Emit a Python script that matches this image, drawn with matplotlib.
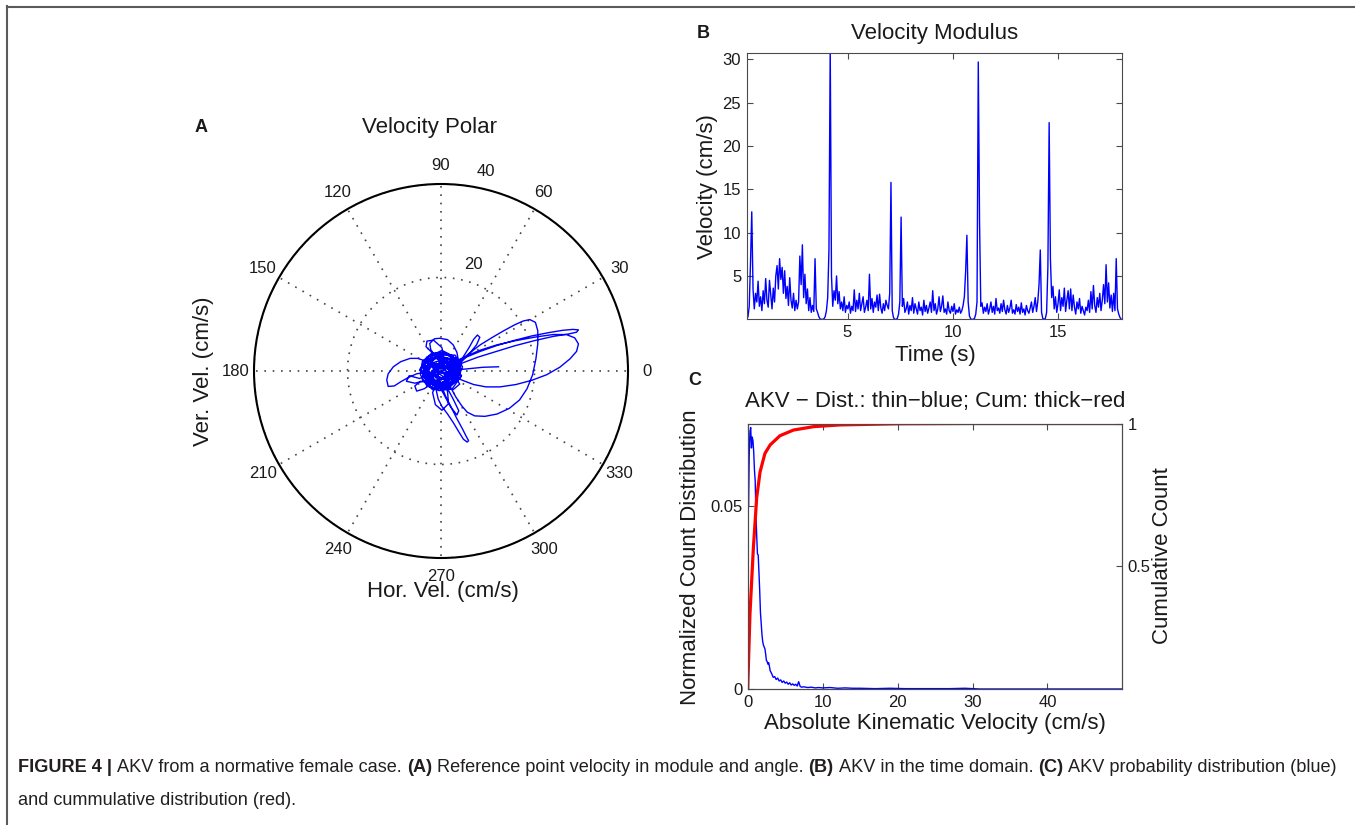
import numpy as np
import matplotlib
matplotlib.use("Agg")
import matplotlib.pyplot as plt
from matplotlib.lines import Line2D
from matplotlib.font_manager import FontProperties

plt.rcParams['font.family'] = ['Liberation Sans', 'DejaVu Sans']
plt.rcParams['axes.unicode_minus'] = True

# ---------------- DATA ----------------
# Panel A: trajectory of (horizontal, vertical) velocity in cm/s, in drawing order
traj_core_1 = [(0.0, 0.0), (2.2, 1.4), (3.9, -0.3), (2.0, -2.9), (-1.6, -3.1), (-3.6, -0.6), (-2.4, 2.6), (0.8, 3.9),
               (3.4, 2.4), (4.3, -1.2), (1.4, -3.9), (-2.2, -3.4), (-4.2, 0.4), (-2.8, 3.0), (0.2, 4.4), (2.6, 3.2),
               (3.2, 0.2), (1.0, -1.8), (-1.4, -1.0), (-0.4, 1.6), (1.6, 0.6)]
traj_left_loop = [(-1.5, 0.8), (-3.5, 2.2), (-5.0, 2.7), (-6.6, 2.7), (-8.6, 2.0), (-10.2, 0.9), (-11.3, -0.6),
                  (-11.6, -1.9), (-11.3, -3.3), (-10.0, -3.2), (-8.6, -2.3), (-7.0, -1.4), (-5.2, -0.6),
                  (-3.5, -0.3), (-1.8, -0.4)]
traj_core_2 = [(1.8, -2.6), (3.6, -1.6), (4.6, 0.9), (3.0, 3.4), (-0.6, 3.4), (-3.4, 1.6), (-4.0, -1.8),
               (-1.8, -4.0), (1.6, -3.6), (3.8, 0.6), (2.0, 2.2), (-0.8, 0.8), (-2.6, -1.8), (0.4, -2.6),
               (2.8, -0.6), (1.2, 1.6)]
traj_up_loop = [(-0.8, 2.6), (-2.2, 4.6), (-2.4, 5.9), (-1.4, 6.9), (-0.2, 7.0), (1.4, 6.7), (2.6, 5.6),
                (3.4, 4.0), (3.7, 2.4), (3.0, 0.8)]
traj_core_3 = [(0.6, -1.4), (-2.0, -2.6), (-4.4, -2.2), (-5.6, -3.2), (-5.2, -4.3), (-3.6, -3.8), (-1.2, -2.2),
               (1.8, -1.0), (4.0, 1.6)]
traj_small_lobe = [(4.8, 3.1), (6.0, 5.0), (7.0, 6.8), (7.8, 7.7), (8.3, 7.2), (7.6, 5.6), (6.0, 3.6),
                   (4.2, 1.8), (2.4, 0.4)]
traj_core_4 = [(1.0, 2.0), (3.0, 1.0), (2.5, -1.5), (0.0, -2.5), (-2.5, -1.5), (-3.0, 1.0), (-1.0, 3.0),
               (1.5, 2.8), (3.2, 0.2), (2.0, -2.6), (-0.8, -3.4), (-3.2, -2.0), (-3.6, 1.2), (-1.6, 3.4),
               (1.2, 3.6), (3.6, 1.6), (3.8, -1.8), (1.2, -3.6), (-1.8, -3.0), (-2.0, -0.2), (-0.2, 1.2),
               (1.8, 0.2), (0.8, -1.6), (-1.2, -1.4), (-1.6, 0.8), (0.4, 2.2), (2.6, 1.8), (3.4, -0.6),
               (1.6, -2.0), (-0.6, -1.2), (-2.8, 0.0), (-2.2, 2.2), (0.0, 3.2), (2.2, 2.4), (2.8, 0.4),
               (1.0, -0.8), (-1.0, 0.2), (-0.4, -2.4), (1.6, -3.0), (3.0, -2.0), (4.2, 0.4), (3.0, 2.8),
               (0.6, 4.0), (-2.0, 3.8), (-4.0, 2.0), (-4.4, -0.8), (-3.0, -3.2), (-0.4, -4.2), (2.4, -3.8),
               (4.4, -1.0), (2.2, 0.8), (-0.6, 0.6), (-2.4, -1.0), (-1.0, -2.8), (1.2, -2.2), (2.0, 0.0)]
traj_upleft_loop = [(-1.0, 3.0), (-2.4, 4.4), (-3.2, 5.2), (-3.0, 6.4), (-1.6, 6.6), (0.2, 5.0), (0.5, 3.0)]
traj_core_5 = [(0.6, 1.4), (-1.4, 1.6), (-3.2, 0.2), (-3.4, -2.4), (-1.6, -3.8), (0.8, -3.0), (2.6, -0.8),
               (1.6, 1.2), (-0.2, 2.6), (-2.6, 2.8), (-3.8, 0.6), (-2.6, -1.4), (-0.4, -0.6), (1.4, 0.8),
               (3.8, 2.2), (2.0, 3.4), (-0.8, 3.8), (-3.0, 3.0), (-4.6, 0.2), (-3.6, -1.0), (-1.2, 0.0),
               (1.0, -0.4), (3.0, -1.2), (4.0, -2.8), (2.6, -4.0), (0.0, -3.2), (-2.0, -2.0), (-1.2, 0.6),
               (0.8, 2.0), (2.8, 1.0), (2.2, -0.4)]
traj_loop_a = [(3.6, 1.6), (5.8, 3.6), (8.4, 5.6), (11.0, 7.2), (13.4, 8.6), (15.8, 9.9), (17.6, 10.7),
               (19.0, 11.0), (20.2, 10.4), (20.7, 8.6), (20.7, 5.8), (20.3, 2.6), (19.6, -0.8), (18.4, -3.8),
               (16.8, -6.2), (14.6, -8.0), (12.0, -9.2), (9.4, -9.7), (7.2, -9.6), (5.6, -8.8), (4.4, -7.4),
               (3.2, -5.6), (2.0, -3.4), (0.8, -1.4)]
traj_core_6 = [(-1.0, -0.2), (-2.4, 1.4), (-1.2, 2.8), (1.0, 2.6), (2.8, 0.4), (1.6, -2.4), (-1.2, -3.0),
               (-3.2, -1.0), (-2.0, 1.2), (0.2, 1.0)]
traj_loop_b = [(2.4, 1.6), (5.0, 2.8), (8.4, 4.2), (11.8, 5.4), (15.5, 6.5), (19.4, 7.5), (23.0, 8.2),
               (26.0, 8.7), (28.2, 8.9), (29.4, 8.8), (29.0, 8.3), (27.2, 7.9), (24.0, 7.4), (20.0, 6.5),
               (15.8, 5.4), (11.6, 4.1), (8.0, 3.0), (4.8, 1.8), (2.2, 0.6)]
traj_core_7 = [(0.6, -1.2), (-1.4, -2.4), (-3.2, -0.8), (-2.2, 1.6), (0.2, 2.4), (2.4, 1.8), (3.4, -0.8),
               (1.2, -3.2), (-1.0, -3.6), (-2.4, -1.4), (-0.6, 0.4)]
traj_loop_c = [(1.8, 1.4), (4.6, 2.8), (8.2, 4.4), (12.0, 5.6), (16.0, 6.5), (20.4, 7.3), (24.0, 7.8),
               (26.8, 7.8), (28.6, 7.1), (29.4, 5.8), (29.0, 4.2), (27.6, 2.6), (25.4, 0.8), (22.6, -0.8),
               (19.4, -2.0), (16.0, -2.9), (12.6, -3.4), (9.6, -3.4), (7.0, -2.9), (4.6, -2.0), (2.4, -1.0)]
traj_core_8 = [(0.4, 0.6), (-1.6, 1.6), (-3.4, 1.0), (-3.8, -1.2), (-2.0, -2.8), (0.6, -3.4), (2.6, -2.2),
               (3.6, 0.4), (2.2, 2.6), (-0.4, 2.0)]
traj_down_loop = [(-0.6, -1.0), (0.0, -3.0), (1.0, -5.4), (2.2, -7.8), (3.4, -10.2), (4.6, -12.4), (5.4, -14.0),
                  (5.9, -14.9), (5.6, -15.2), (4.8, -14.6), (3.8, -13.0), (2.6, -11.0), (1.4, -9.2),
                  (0.2, -7.6), (-0.6, -6.0), (-1.0, -4.2), (-0.6, -2.2)]
traj_low_loops = [(-1.8, -4.6), (-1.2, -7.2), (0.2, -8.4), (1.6, -7.0), (1.4, -4.4), (1.0, -3.0), (2.6, -6.0),
                  (3.8, -8.5), (3.4, -9.4), (2.0, -7.6), (0.4, -4.6)]
traj_core_9 = [(-2.2, -0.6), (-4.6, -1.6), (-6.8, -1.0), (-7.4, -2.2), (-5.6, -2.6), (-3.0, -2.0),
               (-1.8, 0.2), (1.0, -0.6), (3.0, 0.6), (4.4, 1.4), (2.8, -1.4)]
traj_tail = [(0.2, -0.4), (3.0, 0.2), (6.0, 0.5), (9.0, 0.8), (12.3, 0.9)]
trajectory_segments = [traj_core_1, traj_left_loop, traj_core_2, traj_up_loop, traj_core_3, traj_small_lobe,
                       traj_core_4, traj_upleft_loop, traj_core_5, traj_loop_a, traj_core_6, traj_loop_b,
                       traj_core_7, traj_loop_c, traj_core_8, traj_down_loop, traj_low_loops, traj_core_9,
                       traj_tail]
polar_angles = list(range(0, 360, 30))
polar_radii = [20, 40]

# Panel B: velocity modulus sampled every 0.06 s starting at 0.22 s (cm/s)
time_start = 0.22
time_step = 0.06
velocity_modulus = [
    0.0, 0.3, 1.5, 6.5, 12.4,
    3.5, 1.2, 3.0, 2.0, 4.4, 1.5,
    2.6, 1.0, 3.3, 1.8, 4.7, 2.2, 1.4, 4.5, 2.8, 1.2, 3.6, 2.0,
    5.0, 6.2, 3.5, 7.0, 4.6, 6.0, 3.0, 5.6,
    2.4, 3.8, 1.6, 4.8, 2.2, 1.3, 3.0, 1.0, 2.2, 1.2,
    2.0, 7.3, 4.0, 8.6, 2.5, 5.2,
    1.8, 3.5, 1.0, 2.5, 0.8, 1.6, 0.9, 7.0,
    1.2, 0.8, 0.3, 0.05, 0.0, 0.0, 0.05, 0.3, 1.0,
    2.5, 8.0, 31.5, 5.0,
    1.5, 3.3, 2.2, 5.0, 1.8, 3.2, 1.2, 2.0, 1.0, 2.6, 0.8, 1.6, 1.2,
    2.0, 0.7, 1.5, 1.0, 3.4, 0.9, 2.2, 1.2, 3.0, 1.0, 1.8, 2.6, 0.8, 1.4, 2.2,
    1.0, 5.2, 1.2, 2.4, 0.8, 2.0, 1.4, 2.8, 1.0, 2.9, 1.3, 0.7, 1.8, 1.0, 2.2, 1.6, 1.2, 3.0,
    15.8, 1.0, 0.2, 0.0, 0.0, 0.1, 0.6, 2.0, 11.8,
    1.5, 2.4, 0.8, 1.2, 2.0, 0.6, 1.6, 1.0, 2.5, 0.7, 1.8, 1.2, 0.6, 2.0, 1.0, 1.4, 0.5, 2.2, 0.9, 1.6,
    0.7, 1.3, 2.0, 0.8, 3.3, 1.0, 1.8, 0.6, 1.2, 2.6, 0.9, 1.5, 2.7, 0.8, 1.2, 0.6, 2.0, 1.0, 0.7, 1.5,
    0.9, 1.8, 0.6, 1.1, 0.8, 1.4, 0.7, 1.0, 1.6, 2.6,
    5.5, 9.7, 2.0, 0.4, 0.05, 0.0, 0.0, 0.1, 0.6, 2.0, 29.7, 11.2, 1.5,
    1.9, 0.7, 1.4, 0.9, 1.8, 0.6, 1.2, 2.0, 0.8, 1.5, 0.6, 2.4, 1.0, 1.3, 0.7, 1.8, 0.9, 2.2, 1.1, 0.6,
    1.6, 0.8, 1.3, 2.2, 0.7, 1.1, 0.6, 1.7, 0.9, 1.4, 0.6, 1.9, 0.8, 1.2, 0.5, 1.6, 1.0, 0.7, 1.3, 2.0,
    0.8, 1.5, 2.5, 0.9, 2.0, 4.0,
    8.0, 0.8, 0.1, 0.0, 0.1, 0.8, 6.0, 22.7, 7.0, 2.5,
    3.8, 1.2, 2.6, 0.8, 1.8, 3.4, 1.0, 2.5, 1.5, 3.6,
    0.9, 2.2, 3.3, 1.2, 3.5, 1.0, 2.8, 1.4, 0.6, 2.0,
    1.2, 2.4, 0.7, 1.5, 1.0, 0.5, 1.4, 1.0, 2.2, 0.8,
    3.2, 1.2, 3.9, 1.6, 0.8, 2.5, 1.4, 3.0, 1.0, 2.2,
    4.0, 1.8, 6.3, 2.0, 4.2, 1.3, 2.8, 0.9, 3.0, 1.0,
    7.0, 1.2, 0.6, 0.2, 0.0]
b_xticks = [5, 10, 15]
b_yticks = [5, 10, 15, 20, 25, 30]

# Panel C: distribution (blue) and cumulative (red)
akv_bins = [0, 0.1, 0.2, 0.3, 0.4, 0.5, 0.6, 0.7, 0.8, 0.9, 1.0, 1.1, 1.2, 1.3, 1.4, 1.5, 1.6, 1.7, 1.8, 1.9,
            2.0, 2.1, 2.2, 2.3, 2.4, 2.5, 2.6, 2.7, 2.8, 2.9, 3.0, 3.2, 3.4, 3.6, 3.8, 4.0, 4.2, 4.4, 4.6, 4.8,
            5.0, 5.2, 5.4, 5.6, 5.8, 6.0, 6.2, 6.4, 6.6, 6.8, 7.0, 7.2, 7.5, 8.0, 8.5, 9.0, 9.5, 10, 11, 12,
            13, 14, 15, 17, 19, 21, 23, 25, 27, 29, 30, 31, 49.9]
akv_dist = [0.12, 0.050, 0.064, 0.0705, 0.0716, 0.066, 0.069, 0.068, 0.065, 0.060, 0.057, 0.048, 0.042, 0.037,
            0.0367, 0.032, 0.027, 0.021, 0.018, 0.015, 0.013, 0.012, 0.0115, 0.011, 0.0095, 0.0078, 0.0075,
            0.0068, 0.0072, 0.0062, 0.0050, 0.0042, 0.0032, 0.0034, 0.0026, 0.0030, 0.0022, 0.0025, 0.0018,
            0.0022, 0.0016, 0.0019, 0.0013, 0.0017, 0.0011, 0.0014, 0.0010, 0.0013, 0.0008, 0.0020, 0.0007,
            0.0005, 0.0006, 0.0004, 0.0005, 0.0003, 0.0004, 0.0003, 0.0004, 0.0002, 0.0003, 0.0002, 0.0002,
            0.0001, 0.0002, 0.0001, 0.0001, 0.0001, 0.0001, 0.0002, 0.0001, 0.0, 0.0]
cum_x = [0, 0.3, 0.75, 1.2, 1.65, 2.3, 3.0, 4.3, 6.1, 8.8, 12.3, 20, 30, 49.9]
cum_y = [0.068, 0.33, 0.56, 0.74, 0.83, 0.895, 0.925, 0.957, 0.977, 0.989, 0.995, 0.999, 1.0, 1.0]
c_xticks = [0, 10, 20, 30, 40]
c_left_ticks = [0, 0.05]
c_left_labels = ['0', '0.05']
c_right_ticks = [0.5, 1]
c_right_labels = ['0.5', '1']

caption_line1 = [("FIGURE 4 |", True), ("AKV from a normative female case.", False), ("(A)", True),
                 ("Reference point velocity in module and angle.", False), ("(B)", True),
                 ("AKV in the time domain.", False), ("(C)", True), ("AKV probability distribution (blue)", False)]
caption_line2 = [("and cummulative distribution (red).", False)]

# ---------------- FIGURE ----------------
W, H = 1355, 825
fig = plt.figure(figsize=(W / 100, H / 100), dpi=100)


def fx(px):
    return px / W


def fy(py):
    return 1 - py / H


TXT = '#1a1a1a'
SPINE = '#4a4a4a'

# frame lines
fig.add_artist(Line2D([fx(7), 1.0], [fy(6.5), fy(6.5)], transform=fig.transFigure, color='#5a5a5a', lw=1.5))
fig.add_artist(Line2D([fx(7.5), fx(7.5)], [fy(6), 0.0], transform=fig.transFigure, color='#5a5a5a', lw=1.5))

# ---------- Panel A (polar) ----------
cx, cy, R = 441, 371, 187
ax_a = fig.add_axes([fx(cx - R), fy(cy + R), 2 * R / W, 2 * R / H], projection='polar')
hv = np.array([p[0] for seg in trajectory_segments for p in seg])
vv = np.array([p[1] for seg in trajectory_segments for p in seg])
ax_a.plot(np.arctan2(vv, hv), np.hypot(hv, vv), color='blue', lw=1.0)
ax_a.set_rlim(0, 40)
ax_a.set_thetagrids(polar_angles, labels=[''] * len(polar_angles))
ax_a.set_rgrids(polar_radii, labels=[''] * len(polar_radii))
ax_a.grid(True, linestyle=(0, (1, 4)), color='#444444', lw=1.2)
ax_a.spines['polar'].set_color('black')
ax_a.spines['polar'].set_linewidth(1.5)
ax_a.tick_params(length=0)
for a in polar_angles:
    ax_a.text(np.deg2rad(a), 44, str(a), ha='center', va='center', fontsize=12, color=TXT)
for (lx, ly), lab in zip([(4.9, 22.7), (7.7, 42.6)], ['20', '40']):
    ax_a.text(np.arctan2(ly, lx), np.hypot(lx, ly), lab, ha='left', va='center', fontsize=12, color=TXT)
fig.text(fx(430), fy(127), 'Velocity Polar', ha='center', va='center', fontsize=16, color=TXT)
fig.text(fx(201), fy(127), 'A', ha='center', va='center', fontsize=13, fontweight='bold', color=TXT)
fig.text(fx(203), fy(371), 'Ver. Vel. (cm/s)', rotation=90, ha='center', va='center', fontsize=16, color=TXT)
fig.text(fx(443), fy(592), 'Hor. Vel. (cm/s)', ha='center', va='center', fontsize=16, color=TXT)

# ---------- Panel B ----------
ax_b = fig.add_axes([fx(746.7), fy(319.3), 375 / W, 266 / H])
t = time_start + time_step * np.arange(len(velocity_modulus))
ax_b.plot(t, velocity_modulus, color='blue', lw=1.0)
ax_b.set_xlim(0.22, 18.0)
ax_b.set_ylim(0, 30.7)
ax_b.set_xticks(b_xticks)
ax_b.set_yticks(b_yticks)
ax_b.tick_params(direction='in', top=True, right=True, length=4, labelsize=12, pad=4,
                 colors=SPINE, labelcolor=TXT)
for s in ax_b.spines.values():
    s.set_color(SPINE)
fig.text(fx(935), fy(33), 'Velocity Modulus', ha='center', va='center', fontsize=16, color=TXT)
fig.text(fx(703), fy(33), 'B', ha='center', va='center', fontsize=13, fontweight='bold', color=TXT)
fig.text(fx(707), fy(186.5), 'Velocity (cm/s)', rotation=90, ha='center', va='center', fontsize=16, color=TXT)
fig.text(fx(935), fy(355), 'Time (s)', ha='center', va='center', fontsize=16, color=TXT)

# ---------- Panel C ----------
ax_c = fig.add_axes([fx(747.7), fy(689), 374 / W, 265.5 / H])
ax_c.plot(akv_bins, akv_dist, color='blue', lw=1.0)
ax_c.set_xlim(0, 49.9)
ax_c.set_ylim(0, 0.0727)
ax_c.set_xticks(c_xticks)
ax_c.set_yticks(c_left_ticks)
ax_c.set_yticklabels(c_left_labels)
ax_c.tick_params(direction='in', top=True, right=False, length=4, labelsize=12, pad=4,
                 colors=SPINE, labelcolor=TXT)
ax_c2 = ax_c.twinx()
ax_c2.plot(cum_x, cum_y, color='red', lw=2.3)
ax_c2.set_ylim(0.068, 1.0)
ax_c2.set_yticks(c_right_ticks)
ax_c2.set_yticklabels(c_right_labels)
ax_c2.tick_params(direction='in', length=4, labelsize=12, pad=4, colors=SPINE, labelcolor=TXT)
for axx in (ax_c, ax_c2):
    for s in axx.spines.values():
        s.set_color(SPINE)
fig.text(fx(695), fy(380), 'C', ha='center', va='center', fontsize=13, fontweight='bold', color=TXT)
fig.text(fx(935), fy(401.7), 'AKV \u2212 Dist.: thin\u2212blue; Cum: thick\u2212red', ha='center', va='center',
         fontsize=16, color=TXT)
fig.text(fx(690), fy(557), 'Normalized Count Distribution', rotation=90, ha='center', va='center',
         fontsize=16, color=TXT)
fig.text(fx(1163), fy(556), 'Cumulative Count', rotation=90, ha='center', va='center', fontsize=16, color=TXT)
fig.text(fx(935), fy(723), 'Absolute Kinematic Velocity (cm/s)', ha='center', va='center', fontsize=16, color=TXT)

# ---------- Caption ----------
renderer = fig.canvas.get_renderer()


def tw(s, size, bold):
    prop = FontProperties(family='Liberation Sans', size=size, weight='bold' if bold else 'normal')
    w, h, d = renderer.get_text_width_height_descent(s, prop, ismath=False)
    return w


def line_width(segs, size):
    sp = tw('a a', size, False) - tw('aa', size, False)
    return sum(tw(s, size, b) for s, b in segs) + sp * (len(segs) - 1)


base = 12.0
size = base * (1337 - 18) / line_width(caption_line1, base)
CAP = '#231f20'


def draw_line(segs, y):
    sp = tw('a a', size, False) - tw('aa', size, False)
    x = 18
    for s, b in segs:
        fig.text(fx(x), fy(y), s, ha='left', va='baseline', fontsize=size,
                 fontweight='bold' if b else 'normal', color=CAP)
        x += tw(s, size, b) + sp


draw_line(caption_line1, 772)
draw_line(caption_line2, 805)

fig.savefig('out.png', dpi=100)
